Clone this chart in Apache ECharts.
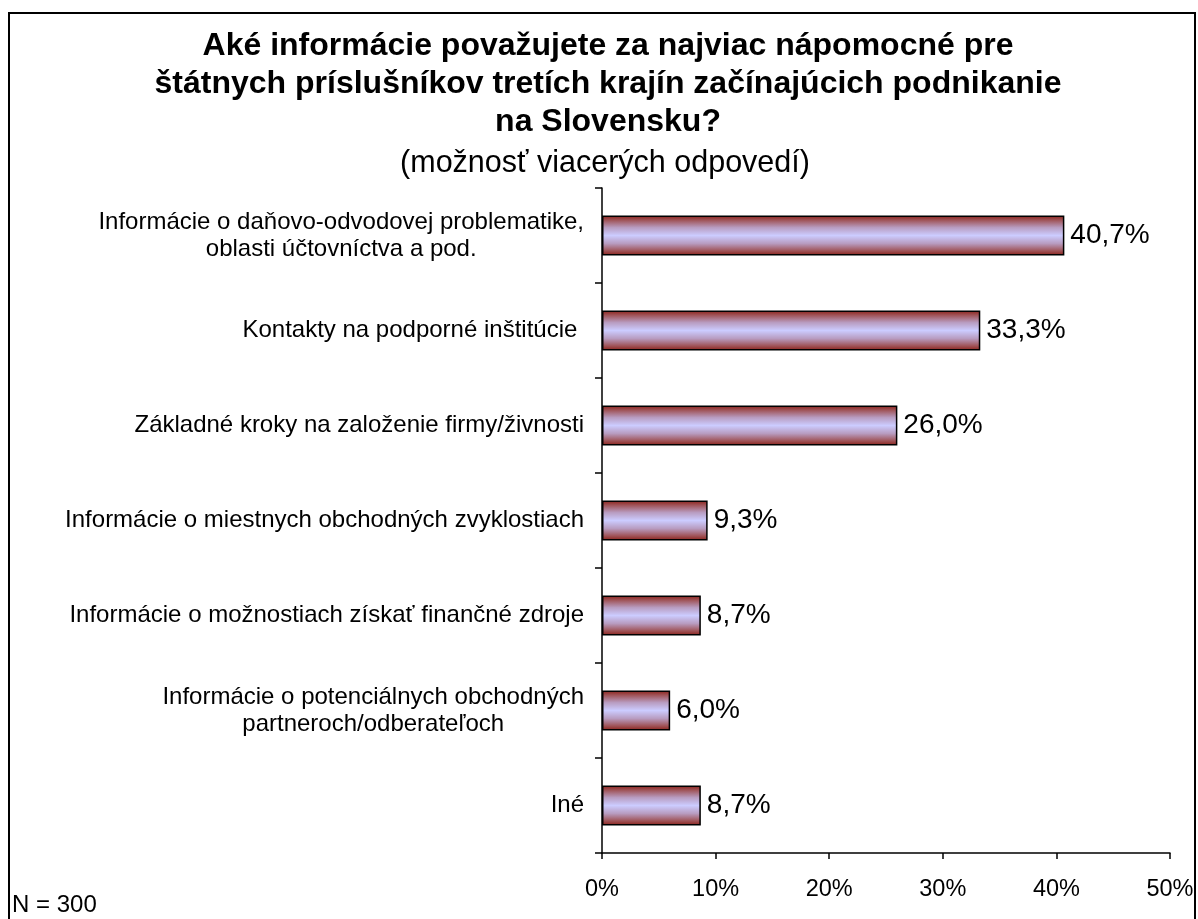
<!DOCTYPE html>
<html>
<head>
<meta charset="utf-8">
<script src="https://cdn.jsdelivr.net/npm/echarts@6/dist/echarts.min.js"></script>
<style>
html,body{margin:0;padding:0;background:#fff;}
#chart{width:1198px;height:919px;}
</style>
</head>
<body>
<div id="chart"></div>
<script>
var titleText = 'Aké informácie považujete za najviac nápomocné pre\nštátnych príslušníkov tretích krajín začínajúcich podnikanie\nna Slovensku?';
var subtitleText = '(možnosť viacerých odpovedí)';
var categories = [
  'Informácie o daňovo-odvodovej problematike,\noblasti účtovníctva a pod.',
  'Kontakty na podporné inštitúcie ',
  'Základné kroky na založenie firmy/živnosti',
  'Informácie o miestnych obchodných zvyklostiach',
  'Informácie o možnostiach získať finančné zdroje',
  'Informácie o potenciálnych obchodných\npartneroch/odberateľoch',
  'Iné'
];
var values = [40.7, 33.3, 26.0, 9.3, 8.7, 6.0, 8.7];
var xTicks = [0, 10, 20, 30, 40, 50];
var noteText = 'N = 300';

var FONT = '"Liberation Sans", Arial, sans-serif';

var chart = echarts.init(document.getElementById('chart'));
chart.setOption({
  backgroundColor: '#ffffff',
  animation: false,
  title: [
    {
      text: titleText,
      left: 603, top: 22, textAlign: 'center',
      textStyle: {fontFamily: FONT, fontWeight: 'bold', fontSize: 32, lineHeight: 38, color: '#000'}
    },
    {
      text: subtitleText,
      left: 600, top: 141, textAlign: 'center',
      textStyle: {fontFamily: FONT, fontWeight: 'normal', fontSize: 30.5, lineHeight: 36, color: '#000'}
    }
  ],
  graphic: [
    {type: 'rect', shape: {x: 9, y: 13, width: 1186, height: 940}, style: {fill: 'none', stroke: '#000', lineWidth: 2}, silent: true},
    {type: 'text', left: 12, top: 893, style: {text: noteText, font: '24px ' + FONT, fill: '#000'}}
  ],
  grid: {left: 602, right: 28, top: 188, bottom: 66, containLabel: false},
  xAxis: {
    type: 'value', min: xTicks[0], max: xTicks[xTicks.length - 1], interval: 10,
    axisLine: {show: true, lineStyle: {color: '#000', width: 1.5}},
    axisTick: {show: true, length: 6, lineStyle: {color: '#000', width: 1.5}},
    splitLine: {show: false},
    axisLabel: {formatter: '{value}%', fontFamily: FONT, fontSize: 23.5, color: '#000', margin: 25}
  },
  yAxis: {
    type: 'category', inverse: true, data: categories,
    axisLine: {show: true, lineStyle: {color: '#000', width: 1.5}},
    axisTick: {show: true, length: 7, lineStyle: {color: '#000', width: 1.5}},
    axisLabel: {
      color: '#000', margin: 18, align: 'right',
      fontFamily: FONT, fontSize: 24,
      formatter: function (v) {
        return v.split('\n').map(function (l) { return '{c|' + l + '}'; }).join('\n');
      },
      rich: {c: {align: 'center', fontFamily: FONT, fontSize: 24, lineHeight: 27, color: '#000'}}
    }
  },
  series: [{
    type: 'bar', data: values, barWidth: 40,
    itemStyle: {
      color: new echarts.graphic.LinearGradient(0, 0, 0, 1, [
        {offset: 0, color: '#8a2018'},
        {offset: 0.12, color: '#a0555a'},
        {offset: 0.3, color: '#b89cc0'},
        {offset: 0.5, color: '#ccccff'},
        {offset: 0.7, color: '#b89cc0'},
        {offset: 0.88, color: '#a0555a'},
        {offset: 1, color: '#8a2018'}
      ]),
      borderColor: '#000', borderWidth: 1.5
    },
    label: {
      show: true, position: 'right', distance: 6,
      fontFamily: FONT, fontSize: 28, color: '#000',
      formatter: function (p) { return p.value.toFixed(1).replace('.', ',') + '%'; }
    }
  }]
});
</script>
</body>
</html>
